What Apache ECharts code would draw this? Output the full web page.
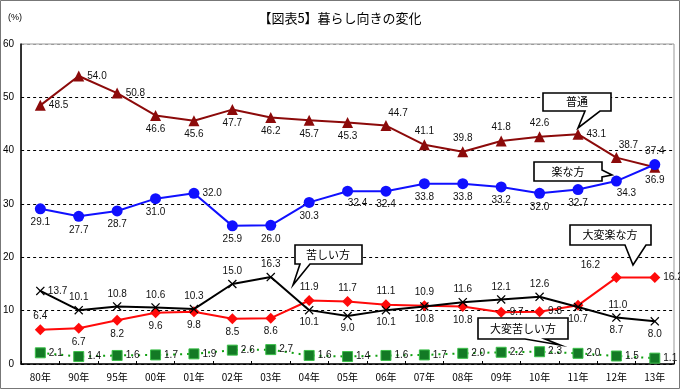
<!DOCTYPE html>
<html><head><meta charset="utf-8">
<script src="https://cdn.jsdelivr.net/npm/echarts@6/dist/echarts.min.js"></script>
<style>html,body{margin:0;padding:0;background:#fff}#c{width:680px;height:389px}</style>
</head><body><div id="c"></div><script>
const categories = ['80年','90年','95年','00年','01年','02年','03年','04年','05年','06年','07年','08年','09年','10年','11年','12年','13年'];
const futsu = [48.5,54.0,50.8,46.6,45.6,47.7,46.2,45.7,45.3,44.7,41.1,39.8,41.8,42.6,43.1,38.7,36.9];
const rakuna = [29.1,27.7,28.7,31.0,32.0,25.9,26.0,30.3,32.4,32.4,33.8,33.8,33.2,32.0,32.7,34.3,37.4];
const kurushii = [13.7,10.1,10.8,10.6,10.3,15.0,16.3,10.1,9.0,10.1,10.8,11.6,12.1,12.6,10.7,8.7,8.0];
const taihenRaku = [6.4,6.7,8.2,9.6,9.8,8.5,8.6,11.9,11.7,11.1,10.9,10.8,9.7,9.8,11.0,16.2,16.2];
const taihenKurushii = [2.1,1.4,1.6,1.7,1.9,2.6,2.7,1.6,1.4,1.6,1.7,2.0,2.2,2.3,2.0,1.5,1.1];
const yTicks = [0,10,20,30,40,50,60];
const seriesNames = ['普通','楽な方','苦しい方','大変楽な方','大変苦しい方'];

// label placement codes (style, kept separate from data)
const posFutsu = ['r','r','r','b','b','b','b','b','b','tr','t','t','t','t','r','tr','b'];
const posRaku  = ['b','b','b','b','r','b','b','b','br','b','b','b','b','b','b','br','t'];
const posKuru  = ['r','t','t','t','t','t','t','b','b','b','b','t','t','t','b','b','b'];
const posTRaku = ['t','b','b','b','b','b','b','t','t','t','t','b','r','r','r2','tl','r'];
const posTKuru = Array(17).fill('r');

function lab(code){
  switch(code){
    case 'r': return {position:'right', distance:3};
    case 'r2': return {position:'right', distance:3, offset:[22,0]};
    case 't': return {position:'top', distance:3};
    case 'b': return {position:'bottom', distance:3};
    case 'tr': return {position:'top', distance:2, offset:[12,0]};
    case 'br': return {position:'bottom', distance:2, offset:[10,0]};
    case 'tl': return {position:'top', distance:2, offset:[-26,0]};
  }
}
function build(vals, pos){
  return vals.map((v,i)=>({value:v, label:lab(pos[i])}));
}
const labelStyle = {show:true, fontSize:10, color:'#111', fontFamily:'Liberation Sans', formatter:p=>p.value.toFixed(1)};

const crossPath = 'path://M0,1 L1,0 L5,4 L9,0 L10,1 L6,5 L10,9 L9,10 L5,6 L1,10 L0,9 L4,5 Z';

function callout(pts, text, tx, ty){
  return [{
    type:'polygon', shape:{points:pts},
    style:{fill:'#fff', stroke:'#000', lineWidth:1.6}, z:100
  },{
    type:'text', x:tx, y:ty, z:101,
    style:{text:text, fill:'#000', font:'11px "Noto Sans CJK JP"', textAlign:'center', textVerticalAlign:'middle'}
  }];
}

const chart = echarts.init(document.getElementById('c'));
chart.setOption({
  animation:false,
  backgroundColor:'#fff',
  grid:{left:21, right:6, top:44, bottom:25, show:true, borderColor:'#999', borderWidth:1, backgroundColor:'transparent'},
  xAxis:{type:'category', data:categories, boundaryGap:true,
    axisLine:{lineStyle:{color:'#000', width:1.5}},
    axisTick:{show:true, inside:true, length:3, lineStyle:{color:'#000'}},
    axisLabel:{fontSize:10, color:'#000', margin:8, fontFamily:'Noto Sans CJK JP'}},
  yAxis:{type:'value', min:yTicks[0], max:yTicks[yTicks.length-1], interval:10,
    axisLine:{show:true, lineStyle:{color:'#000', width:1.5}},
    axisTick:{show:false},
    axisLabel:{fontSize:10, color:'#000', margin:7, fontFamily:'Liberation Sans'},
    splitLine:{show:true, lineStyle:{type:[3,3], color:['#000','#000','#000','#000','#000','#000','#999'], width:1}}},
  series:[
    {name:seriesNames[0], type:'line', data:build(futsu,posFutsu), symbol:'triangle', symbolSize:11,
      lineStyle:{color:'#8c0a0a', width:2}, itemStyle:{color:'#8c0a0a'}, label:labelStyle, z:5},
    {name:seriesNames[1], type:'line', data:build(rakuna,posRaku), symbol:'circle', symbolSize:11,
      lineStyle:{color:'#1010ff', width:2}, itemStyle:{color:'#1010ff'}, label:labelStyle, z:5},
    {name:seriesNames[2], type:'line', data:build(kurushii,posKuru), symbol:crossPath, symbolSize:9,
      lineStyle:{color:'#000', width:2}, itemStyle:{color:'#000'}, label:labelStyle, z:5},
    {name:seriesNames[3], type:'line', data:build(taihenRaku,posTRaku), symbol:'diamond', symbolSize:11,
      lineStyle:{color:'#ff0a0a', width:2}, itemStyle:{color:'#ff0a0a'}, label:labelStyle, z:4},
    {name:seriesNames[4], type:'line', data:build(taihenKurushii,posTKuru), symbol:'rect', symbolSize:10,
      lineStyle:{color:'#10a010', width:2, type:[2,5]}, itemStyle:{color:'#137a25', borderColor:'#3cc04a', borderWidth:1}, label:labelStyle, z:4}
  ],
  graphic:[
    {type:'rect', shape:{x:0.5, y:0.5, width:679, height:388}, style:{fill:'none', stroke:'#777', lineWidth:1}, z:0},
    {type:'text', x:340, y:18, style:{text:'【図表5】暮らし向きの変化', font:'13px "Noto Sans CJK JP"', fill:'#000', textAlign:'center', textVerticalAlign:'middle'}},
    {type:'text', x:8, y:18, style:{text:'(%)', font:'9px "Liberation Sans"', fill:'#000', textVerticalAlign:'middle'}},
    ...callout([[543,93],[611,93],[611,111],[600,111],[578,128],[585,111],[543,111]], seriesNames[0], 577, 102),
    ...callout([[534,162],[602,162],[602,170],[612,175],[602,177],[602,181],[534,181]], seriesNames[1], 568, 171.5),
    ...callout([[295,245],[362,245],[362,264],[310,264],[293,285],[300,264],[295,264]], seriesNames[2], 328, 254.5),
    ...callout([[570,225],[651,225],[651,245],[646,245],[633,265],[625,245],[570,245]], seriesNames[3], 610, 235),
    ...callout([[478,318],[568,318],[568,339],[545,339],[560,345],[525,339],[478,339]], seriesNames[4], 523, 328.5)
  ]
});
</script></body></html>
